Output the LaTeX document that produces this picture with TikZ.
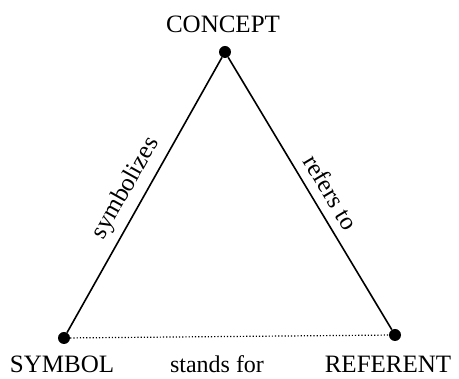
\documentclass[tikz,border=0pt]{standalone}
\usepackage{fontspec}
\setmainfont{Liberation Serif}
\begin{document}
\begin{tikzpicture}[x=1pt,y=-1pt,
  dotnode/.style={circle,fill=black,inner sep=0pt,minimum size=12pt},
  lbl/.style={font=\fontsize{25}{29}\selectfont,inner sep=0pt},
  edge/.style={line width=1.6pt},
  slab/.style={font=\fontsize{25}{29}\selectfont,sloped,inner sep=0pt}]
\useasboundingbox (0,0) rectangle (459,379);
\node[dotnode] (concept) at (225,52) {};
\node[dotnode] (symbol) at (64,338) {};
\node[dotnode] (referent) at (395,335) {};
\node[lbl] (tc) at (223,24) {CONCEPT};
\node[lbl,anchor=base] (ts) at (62,373) {SYMBOL};
\node[lbl,anchor=base] (tr) at (388,373) {REFERENT};
\draw[edge] (symbol) -- node[slab,pos=0.49,above=7pt] (l1) {symbolizes} (concept);
\draw[edge] (concept) -- node[slab,pos=0.53,above=9pt] (l2) {refers to} (referent);
\draw[line width=1.2pt,dotted] (symbol) -- (referent);
\node[lbl,anchor=base,font=\fontsize{24}{28}\selectfont] (l3) at (217,373) {stands for};
\end{tikzpicture}
\end{document}
